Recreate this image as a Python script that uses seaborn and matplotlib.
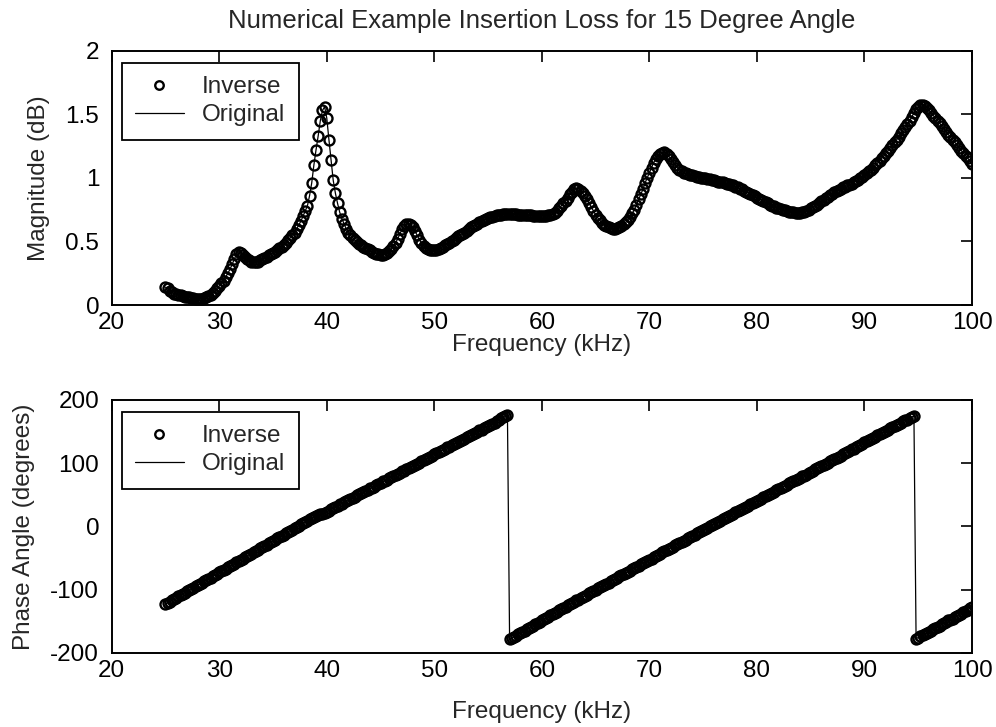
import numpy as np
import pandas as pd
import matplotlib
matplotlib.use("Agg")
import matplotlib.pyplot as plt
from matplotlib.ticker import FuncFormatter
import seaborn as sns

# ---------------- data (0.2 kHz steps, 25..100 kHz) ----------------
freq_start_khz = 25.0
freq_stop_khz = 100.0

mag_db = [
    0.14, 0.13, 0.11, 0.10, 0.09,          # 25
    0.085, 0.08, 0.075, 0.07, 0.065,       # 26
    0.06, 0.06, 0.055, 0.055, 0.05,        # 27
    0.05, 0.05, 0.05, 0.055, 0.06,         # 28
    0.07, 0.08, 0.095, 0.11, 0.13,         # 29
    0.15, 0.17, 0.19, 0.22, 0.25,          # 30
    0.28, 0.32, 0.36, 0.40, 0.42,          # 31
    0.41, 0.395, 0.38, 0.365, 0.35,        # 32
    0.34, 0.335, 0.335, 0.34, 0.35,        # 33
    0.36, 0.37, 0.38, 0.39, 0.40,          # 34
    0.41, 0.42, 0.43, 0.445, 0.46,         # 35
    0.475, 0.49, 0.51, 0.53, 0.55,         # 36
    0.57, 0.60, 0.63, 0.66, 0.70,          # 37
    0.74, 0.78, 0.86, 0.96, 1.10,          # 38
    1.22, 1.33, 1.45, 1.53, 1.56,          # 39
    1.47, 1.30, 1.14, 0.98, 0.88,          # 40
    0.80, 0.73, 0.68, 0.64, 0.60,          # 41
    0.57, 0.55, 0.53, 0.51, 0.495,         # 42
    0.48, 0.47, 0.46, 0.45, 0.44,          # 43
    0.43, 0.42, 0.41, 0.405, 0.40,         # 44
    0.395, 0.395, 0.40, 0.41, 0.425,       # 45
    0.44, 0.465, 0.49, 0.52, 0.56,         # 46
    0.595, 0.62, 0.635, 0.64, 0.63,        # 47
    0.61, 0.58, 0.55, 0.515, 0.49,         # 48
    0.465, 0.45, 0.44, 0.43, 0.43,         # 49
    0.43, 0.435, 0.44, 0.45, 0.46,         # 50
    0.47, 0.48, 0.49, 0.50, 0.515,         # 51
    0.53, 0.54, 0.55, 0.56, 0.57,          # 52
    0.585, 0.60, 0.61, 0.62, 0.63,         # 53
    0.64, 0.65, 0.66, 0.67, 0.68,          # 54
    0.685, 0.69, 0.695, 0.70, 0.705,       # 55
    0.71, 0.71, 0.715, 0.715, 0.715,       # 56
    0.715, 0.715, 0.715, 0.715, 0.71,      # 57
    0.71, 0.71, 0.71, 0.71, 0.705,         # 58
    0.705, 0.70, 0.70, 0.70, 0.70,         # 59
    0.70, 0.70, 0.70, 0.705, 0.71,         # 60
    0.715, 0.725, 0.74, 0.76, 0.78,        # 61
    0.80, 0.82, 0.845, 0.87, 0.89,         # 62
    0.91, 0.92, 0.915, 0.90, 0.88,         # 63
    0.855, 0.83, 0.80, 0.77, 0.74,         # 64
    0.71, 0.685, 0.665, 0.645, 0.63,       # 65
    0.62, 0.61, 0.605, 0.60, 0.60,         # 66
    0.605, 0.61, 0.62, 0.635, 0.65,        # 67
    0.67, 0.69, 0.72, 0.75, 0.79,          # 68
    0.83, 0.87, 0.91, 0.96, 1.00,          # 69
    1.04, 1.08, 1.12, 1.15, 1.17,          # 70
    1.185, 1.195, 1.20, 1.19, 1.17,        # 71
    1.15, 1.125, 1.10, 1.08, 1.065,        # 72
    1.05, 1.04, 1.035, 1.03, 1.025,        # 73
    1.02, 1.015, 1.01, 1.005, 1.00,        # 74
    1.00, 0.995, 0.99, 0.99, 0.985,        # 75
    0.98, 0.975, 0.97, 0.97, 0.965,        # 76
    0.96, 0.955, 0.95, 0.945, 0.94,        # 77
    0.93, 0.925, 0.915, 0.91, 0.90,        # 78
    0.89, 0.88, 0.87, 0.865, 0.855,        # 79
    0.845, 0.835, 0.825, 0.815, 0.81,      # 80
    0.80, 0.79, 0.78, 0.775, 0.765,        # 81
    0.76, 0.755, 0.75, 0.745, 0.74,        # 82
    0.735, 0.73, 0.73, 0.725, 0.725,       # 83
    0.725, 0.73, 0.735, 0.74, 0.75,        # 84
    0.76, 0.77, 0.78, 0.79, 0.80,          # 85
    0.815, 0.825, 0.84, 0.85, 0.865,       # 86
    0.875, 0.885, 0.895, 0.905, 0.915,     # 87
    0.925, 0.93, 0.94, 0.945, 0.955,       # 88
    0.965, 0.975, 0.985, 0.995, 1.005,     # 89
    1.02, 1.035, 1.05, 1.065, 1.08,        # 90
    1.10, 1.115, 1.135, 1.155, 1.175,      # 91
    1.195, 1.215, 1.235, 1.255, 1.28,      # 92
    1.30, 1.325, 1.35, 1.375, 1.40,        # 93
    1.425, 1.45, 1.48, 1.51, 1.54,         # 94
    1.56, 1.575, 1.575, 1.565, 1.55,       # 95
    1.53, 1.51, 1.49, 1.47, 1.45,          # 96
    1.43, 1.405, 1.385, 1.36, 1.34,        # 97
    1.32, 1.30, 1.28, 1.26, 1.235,         # 98
    1.215, 1.195, 1.175, 1.155, 1.135,     # 99
    1.11,                                  # 100
]

phase_deg = [
    -123, -121, -119, -117, -115,   # 25
    -113, -111, -109, -107, -105,   # 26
    -103, -101, -99, -97, -95,      # 27
    -93, -91, -89, -87, -85,        # 28
    -83, -81, -79, -77, -75,        # 29
    -73, -71, -69, -67, -65,        # 30
    -63, -61, -59, -57, -55,        # 31
    -53, -51, -49, -47, -45,        # 32
    -43, -41, -39, -37, -35,        # 33
    -33, -31, -29, -27, -25,        # 34
    -23, -21, -19, -17, -15,        # 35
    -13, -11, -9, -7, -5,           # 36
    -3, -1, 1, 3, 5,                # 37
    7, 9, 11, 13, 15,               # 38
    16, 18, 19, 20, 21,             # 39
    23, 25, 27, 29, 31,             # 40
    33, 35, 36, 38, 40,             # 41
    41, 43, 45, 47, 49,             # 42
    51, 52, 54, 56, 58,             # 43
    60, 61, 63, 65, 67,             # 44
    69, 71, 72, 74, 76,             # 45
    78, 79, 81, 83, 85,             # 46
    87, 88, 90, 92, 94,             # 47
    96, 97, 99, 101, 103,           # 48
    105, 106, 108, 110, 112,        # 49
    114, 116, 117, 119, 121,        # 50
    123, 125, 126, 128, 130,        # 51
    132, 134, 135, 137, 139,        # 52
    141, 143, 144, 146, 148,        # 53
    150, 152, 153, 155, 157,        # 54
    159, 161, 162, 164, 166,        # 55
    169, 171, 173, 175, 177,        # 56
    -179, -177, -175, -173, -171,   # 57
    -169, -167, -165, -163, -161,   # 58
    -159, -157, -155, -153, -151,   # 59
    -149, -147, -145, -143, -141,   # 60
    -139, -137, -135, -133, -131,   # 61
    -129, -127, -125, -123, -121,   # 62
    -119, -117, -116, -114, -112,   # 63
    -110, -108, -106, -104, -102,   # 64
    -100, -98, -96, -94, -93,       # 65
    -91, -89, -87, -85, -83,        # 66
    -81, -79, -77, -76, -74,        # 67
    -72, -70, -68, -66, -64,        # 68
    -62, -60, -58, -57, -55,        # 69
    -53, -51, -49, -47, -45,        # 70
    -43, -41, -39, -38, -36,        # 71
    -34, -32, -30, -28, -26,        # 72
    -24, -23, -21, -19, -17,        # 73
    -15, -13, -11, -9, -8,          # 74
    -6, -4, -2, 0, 2,               # 75
    4, 5, 7, 9, 11,                 # 76
    13, 15, 17, 18, 20,             # 77
    22, 24, 26, 28, 29,             # 78
    31, 33, 35, 37, 38,             # 79
    40, 42, 44, 46, 48,             # 80
    49, 51, 53, 55, 57,             # 81
    59, 60, 62, 64, 66,             # 82
    68, 70, 71, 73, 75,             # 83
    77, 79, 80, 82, 84,             # 84
    86, 88, 90, 92, 94,             # 85
    95, 97, 99, 101, 103,           # 86
    105, 107, 108, 110, 112,        # 87
    114, 116, 118, 120, 122,        # 88
    123, 125, 127, 129, 131,        # 89
    133, 135, 137, 138, 140,        # 90
    142, 144, 146, 148, 149,        # 91
    151, 153, 155, 157, 159,        # 92
    160, 162, 164, 166, 168,        # 93
    169, 171, 173, 175, -178,       # 94
    -176, -174, -172, -171, -169,   # 95
    -167, -165, -163, -161, -159,   # 96
    -157, -155, -153, -151, -149,   # 97
    -148, -146, -144, -142, -140,   # 98
    -138, -136, -134, -132, -130,   # 99
    -128,                           # 100
]

x_ticks = [20, 30, 40, 50, 60, 70, 80, 90, 100]
mag_ticks = [0, 0.5, 1, 1.5, 2]
phase_ticks = [-200, -100, 0, 100, 200]

title_text = "Numerical Example Insertion Loss for 15 Degree Angle"
x_label = "Frequency (kHz)"
mag_label = "Magnitude (dB)"
phase_label = "Phase Angle (degrees)"
legend_labels = ["Inverse", "Original"]

if len(mag_db) != len(phase_deg):
    raise ValueError(f"length mismatch {len(mag_db)} {len(phase_deg)}")

freq_khz = np.round(np.linspace(freq_start_khz, freq_stop_khz, len(mag_db)), 2)
df = pd.DataFrame({"freq": freq_khz, "mag": mag_db, "phase": phase_deg})

# ---------------- style ----------------
sns.set_style("white")
plt.rcParams["font.family"] = ["Liberation Sans", "DejaVu Sans"]
FS = 17.5

fig = plt.figure(figsize=(9.96, 7.27), dpi=100)
W, H = 996.0, 727.0
axL, axR = 111.7, 972.0
ax1 = fig.add_axes([axL / W, 1 - 305.0 / H, (axR - axL) / W, (305.0 - 50.7) / H])
ax2 = fig.add_axes([axL / W, 1 - 652.7 / H, (axR - axL) / W, (652.7 - 400.0) / H])


def draw(ax, ycol, yticks, ylim, ylabel, ylabel_x, xlabel_y, ax_h):
    sns.lineplot(data=df, x="freq", y=ycol, ax=ax, linestyle="none", marker="o",
                 markersize=7.2, markerfacecolor="none", markeredgecolor="black",
                 markeredgewidth=1.7, color="black", label=legend_labels[0],
                 estimator=None, errorbar=None, zorder=2)
    sns.lineplot(data=df, x="freq", y=ycol, ax=ax, color="black", linewidth=0.9,
                 label=legend_labels[1], estimator=None, errorbar=None, zorder=3)
    ax.set_xlim(20, 100)
    ax.set_ylim(*ylim)
    ax.set_xticks(x_ticks)
    ax.set_yticks(yticks)
    ax.yaxis.set_major_formatter(FuncFormatter(lambda v, p: f"{v:g}"))
    ax.tick_params(direction="in", length=8, width=1.2, top=True, right=True,
                   labelsize=FS, colors="black")
    ax.tick_params(axis="x", pad=5)
    ax.tick_params(axis="y", pad=9)
    for s in ax.spines.values():
        s.set_visible(True)
        s.set_color("black")
        s.set_linewidth(1.4)
    ax.set_xlabel(x_label, fontsize=FS)
    ax.set_ylabel(ylabel, fontsize=FS)
    ax.yaxis.set_label_coords(ylabel_x, 0.5)
    ax.xaxis.set_label_coords(0.5, xlabel_y)
    leg = ax.legend(loc="upper left",
                    bbox_to_anchor=(10.0 / (axR - axL), 1 - 12.0 / ax_h),
                    borderaxespad=0, fontsize=FS, frameon=True, fancybox=False,
                    framealpha=1, edgecolor="black", handlelength=2.0,
                    handletextpad=0.75, borderpad=0.55, labelspacing=0.25,
                    markerscale=0.85)
    leg.get_frame().set_linewidth(1.3)


draw(ax1, "mag", mag_ticks, (0, 2), mag_label, (50 - axL) / (axR - axL),
     (305 - 334) / 254.3, 254.3)
draw(ax2, "phase", phase_ticks, (-200, 200), phase_label, (35 - axL) / (axR - axL),
     (652.7 - 701) / 252.7, 252.7)
ax1.set_title(title_text, fontsize=18.5, pad=16)

fig.savefig("out.png", dpi=100, facecolor="white")
